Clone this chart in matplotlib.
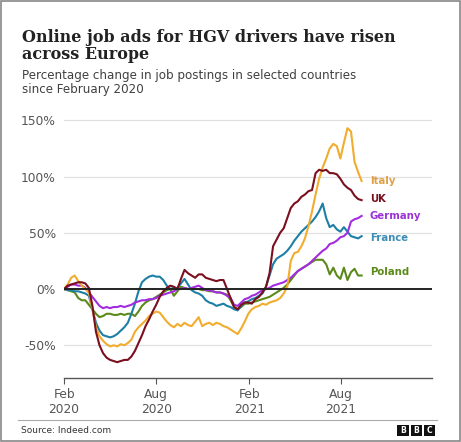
"""Online job ads for HGV drivers across Europe (BBC style line chart)."""

import matplotlib
matplotlib.use("Agg")
import matplotlib.pyplot as plt
import pandas as pd
from matplotlib.patches import Rectangle

# Weekly index, Feb 2020 to Sep 2021
dates = pd.date_range("2020-02-01", periods=85, freq="7D")

italy = [0, 4, 10, 12, 7, 3, 0, -3, -18, -34, -42, -46, -49, -51, -50, -51, -49,
         -50, -48, -45, -38, -34, -31, -28, -24, -22, -20, -21, -25, -29, -32, -34,
         -31, -33, -30, -32, -33, -29, -25, -33, -31, -30, -32, -30, -31, -33, -34,
         -36, -38, -40, -35, -29, -22, -18, -16, -15, -13, -14, -12, -11, -10, -8,
         -4, 2, 25, 32, 33, 38, 45, 56, 69, 84, 98, 108, 116, 125, 129, 127, 116,
         130, 143, 140, 113, 104, 96]
uk = [0, 3, 4, 5, 6, 6, 5, 1, -15, -38, -50, -57, -61, -63, -64, -65, -64, -63,
      -63, -60, -55, -48, -41, -33, -27, -20, -14, -7, -2, 1, 3, 2, 0, 9, 17, 14,
      12, 10, 13, 13, 10, 9, 8, 7, 8, 8, 0, -8, -16, -18, -14, -12, -12, -13, -9,
      -7, -3, 2, 14, 38, 44, 50, 54, 63, 72, 76, 78, 82, 84, 87, 88, 103, 106, 105,
      106, 103, 103, 102, 98, 93, 90, 88, 83, 80, 79]
germany = [0, 2, 4, 4, 3, 3, 1, -3, -7, -11, -15, -17, -16, -17, -16, -16, -15,
           -16, -15, -14, -12, -11, -10, -10, -9, -9, -8, -6, -5, -4, -3, -2, 0, 0,
           1, 0, 1, 2, 3, 1, -1, -1, -2, -3, -3, -4, -6, -8, -14, -15, -12, -9, -8,
           -6, -5, -3, -1, 0, 1, 3, 4, 5, 6, 8, 10, 13, 16, 18, 20, 22, 25, 28, 31,
           34, 36, 40, 41, 43, 46, 47, 50, 60, 62, 63, 65]
france = [0, -1, -1, -2, -2, -3, -4, -6, -18, -30, -37, -41, -42, -43, -42, -40,
          -37, -34, -30, -22, -13, -2, 6, 9, 11, 12, 11, 11, 8, 3, 0, 1, 1, 5, 9, 4,
          -1, -3, -4, -6, -10, -12, -13, -15, -14, -13, -15, -16, -18, -19, -15,
          -12, -11, -9, -8, -6, -4, 2, 12, 22, 27, 29, 31, 34, 38, 43, 47, 51, 54,
          57, 60, 64, 69, 76, 63, 55, 57, 53, 51, 55, 51, 47, 46, 45, 47]
poland = [0, -1, -2, -3, -8, -10, -10, -14, -18, -22, -25, -24, -22, -22, -23,
          -23, -22, -23, -22, -22, -24, -20, -15, -12, -10, -9, -7, -5, -3, -1, 0,
          -6, -2, 2, 1, 0, 0, 0, 0, -1, -1, -2, -2, -3, -3, -4, -5, -10, -16, -18,
          -16, -13, -13, -12, -11, -10, -9, -8, -7, -5, -3, -1, 1, 4, 8, 12, 16, 18,
          20, 22, 24, 26, 26, 26, 22, 13, 19, 12, 9, 19, 8, 15, 18, 12, 12]

series_names = ["Poland", "France", "Germany", "Italy", "UK"]
series_values = [poland, france, germany, italy, uk]
colors = {
    "Italy": "#f2ac2e",
    "UK": "#7a0f1e",
    "Germany": "#a32be0",
    "France": "#1d7fa6",
    "Poland": "#5b8a1a",
}
label_colors = {
    "Italy": "#e0a048",
    "UK": "#7a0f1e",
    "Germany": "#9b35d6",
    "France": "#3c8db5",
    "Poland": "#5b8a1a",
}
# label heights (percent) next to the line ends
label_y = {"Italy": 96, "UK": 80, "Germany": 65, "France": 45, "Poland": 15}

y_ticks = [-50, 0, 50, 100, 150]
y_tick_labels = ["-50%", "0%", "50%", "100%", "150%"]
x_ticks = pd.to_datetime(["2020-02-01", "2020-08-01", "2021-02-01", "2021-08-01"])
x_tick_labels = ["Feb\n2020", "Aug\n2020", "Feb\n2021", "Aug\n2021"]

fig = plt.figure(figsize=(4.61, 4.42), dpi=100)
fig.patch.set_facecolor("white")

ax = fig.add_axes([0.139, 0.145, 0.798, 0.588])
ax.set_facecolor("white")

for yt in y_ticks:
    if yt != 0:
        ax.axhline(yt, color="#e0e0e0", lw=0.9, zorder=0)

for name, vals in zip(series_names, series_values):
    ax.plot(dates, vals, color=colors[name], lw=1.5, zorder=3,
            solid_joinstyle="round")

ax.axhline(0, color="#222222", lw=1.4, zorder=4)

label_x = dates[-1] + pd.Timedelta(days=16)
for name in series_names:
    ax.text(label_x, label_y[name], name, color=label_colors[name], fontsize=7.3,
            fontweight="bold", va="center", ha="left")

ax.set_xlim(dates[0], pd.Timestamp("2022-01-28"))
ax.set_ylim(-79, 152)
ax.set_yticks(y_ticks)
ax.set_yticklabels(y_tick_labels)
ax.set_xticks(x_ticks)
ax.set_xticklabels(x_tick_labels)

for side in ["top", "right", "left"]:
    ax.spines[side].set_visible(False)
ax.spines["bottom"].set_color("#555555")
ax.spines["bottom"].set_linewidth(1.0)
ax.tick_params(axis="y", length=0, labelsize=8.8, labelcolor="#555555", pad=6)
ax.tick_params(axis="x", length=4, direction="out", color="#555555",
               labelsize=8.8, labelcolor="#555555", pad=3)

# titles
fig.text(0.048, 0.935, "Online job ads for HGV drivers have risen\nacross Europe",
         fontsize=11.5, fontweight="semibold", family="DejaVu Serif",
         color="#222222", va="top", ha="left", linespacing=1.05)
fig.text(0.048, 0.845, "Percentage change in job postings in selected countries\nsince February 2020",
         fontsize=8.6, color="#404040", va="top", ha="left", linespacing=1.15)

# footer
fig.add_artist(plt.Line2D([0.04, 0.948], [0.05, 0.05], color="#aaaaaa", lw=0.8))
fig.text(0.045, 0.025, "Source: Indeed.com", fontsize=6.5, color="#333333",
         va="center", ha="left")
for i, letter in enumerate("BBC"):
    x0 = 0.862 + i * 0.0285
    fig.add_artist(Rectangle((x0, 0.013), 0.025, 0.026, transform=fig.transFigure,
                             facecolor="#111111", edgecolor="none"))
    fig.text(x0 + 0.0125, 0.026, letter, fontsize=5.5, fontweight="bold",
             color="white", ha="center", va="center")

# screenshot frame
fig.add_artist(Rectangle((0.002, 0.002), 0.996, 0.996, transform=fig.transFigure,
                         facecolor="none", edgecolor="#888888", lw=1.2))

fig.savefig("out.png", dpi=100)
